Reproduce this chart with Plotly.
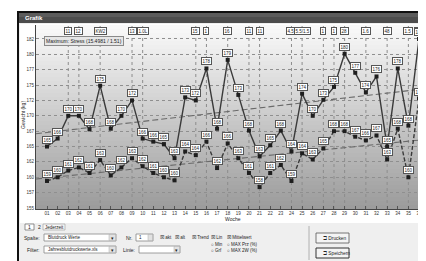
import numpy as np
import plotly.graph_objects as go

# ---------------- data ----------------
categories = ["01", "02", "03", "04", "05", "06", "07", "08", "09", "10", "11", "12",
              "13", "14", "15", "16", "17", "18", "19", "20", "21", "22", "23", "24",
              "25", "26", "27", "28", "29", "30", "31", "32", "33", "34", "35", "36"]
series_upper = [165.0, 166.3, 170.0, 170.0, 167.8, 174.9, 167.9, 170.0, 172.5, 166.3, 165.8, 165.4,
                163.1, 173.0, 172.5, 177.7, 167.9, 179.1, 173.4, 167.6, 163.4, 165.2, 167.6, 164.2,
                173.6, 170.0, 172.6, 174.7, 180.1, 177.0, 173.8, 176.4, 165.0, 177.7, 168.4, 182.5]
series_lower = [159.4, 160.0, 161.1, 161.6, 160.7, 162.8, 160.3, 161.6, 163.1, 161.8, 160.7, 160.0,
                159.5, 164.2, 163.6, 165.8, 161.5, 165.5, 163.1, 160.7, 158.4, 160.7, 162.0, 159.4,
                163.9, 162.9, 164.7, 167.5, 167.5, 166.6, 166.0, 166.8, 162.9, 167.9, 160.0, 172.8]
ytick_values = [155, 157.5, 160, 162.5, 165, 167.5, 170, 172.5, 175, 177.5, 180, 182.5]
ytick_labels = ["155", "157", "160", "162", "165", "167", "170", "172", "175", "177", "180", "182"]
event_cats = [3, 4, 6, 9, 10, 15, 16, 18, 20, 21, 24, 25, 27, 28, 29, 31, 33, 35, 36]
event_labels = ["11", "12", "KW2", "13", "1.0L", "15", "1", "16", "11", "11", "4.5", "5.5/1.5",
                "1", "1", "28", "1.6", "48", "1.5", "1.4"]

xpos = list(range(1, len(categories) + 1))

# ---------------- geometry helpers (pixel -> paper) ----------------
W, H = 426, 261
PL, PR, PT, PB = 28, 414, 17, 201
def X(px):
    return (px - PL) / (PR - PL)
def Y(py):
    return (PB - py) / (PB - PT)

FONT = "Liberation Sans"
shapes = []
annos = []

def rect(x0, y0, x1, y1, fill, line="rgba(0,0,0,0)", lw=0):
    shapes.append(dict(type="rect", xref="paper", yref="paper", layer="below",
                       x0=X(x0), x1=X(x1), y0=Y(y1), y1=Y(y0),
                       fillcolor=fill, line=dict(color=line, width=lw)))

def vline(x, y0, y1, color, lw=1):
    shapes.append(dict(type="line", xref="paper", yref="paper", layer="below",
                       x0=X(x), x1=X(x), y0=Y(y1), y1=Y(y0),
                       line=dict(color=color, width=lw)))

def txt(x, y, s, size=5, color="#222", anchor="left", bold=False, angle=0):
    annos.append(dict(xref="paper", yref="paper", x=X(x), y=Y(y), text=("<b>%s</b>" % s) if bold else s,
                      showarrow=False, xanchor=anchor, yanchor="middle", textangle=angle,
                      font=dict(family=FONT, size=size, color=color)))

# ---------------- window chrome ----------------
rect(10, 4, 421, 254, "#efefef", "#111", 2)
rect(11, 5, 420, 15, "#4d4d4d")
rect(11, 5, 420, 9, "#5c5c5c")
rect(414, 6, 419, 13, "#cfcfcf", "#888", 0.5)
txt(15, 10, "Grafik", 6, "#ffffff", bold=True)
rect(12, 16, 419, 215, "#ffffff")

# bottom panel controls
rect(17, 216, 26, 222, "#ffffff", "#777", 0.8)
txt(21.5, 219, "1", 5, anchor="center")
txt(31, 219, "2", 5, anchor="center")
rect(35, 216, 57, 222, "#f7f7f7", "#999", 0.6)
txt(46, 219, "Jederzeit", 4.5, anchor="center")

txt(34, 229.5, "Spalte:", 5, anchor="right")
rect(36, 226, 108, 233, "#ffffff", "#888", 0.8)
rect(101, 226.5, 107.5, 232.5, "#e2e2e2", "#aaa", 0.5)
txt(104.3, 229.5, "▾", 5, anchor="center")
txt(38, 229.5, "Blutdruck Werte", 4.5)

txt(34, 241.5, "Filter:", 5, anchor="right")
rect(36, 238, 108, 245, "#ffffff", "#888", 0.8)
rect(101, 238.5, 107.5, 244.5, "#e2e2e2", "#aaa", 0.5)
txt(104.3, 241.5, "▾", 5, anchor="center")
txt(38, 241.5, "Jahresblutdruckwerte.xls", 4.5)

txt(126, 229.5, "Nr.", 5, anchor="right")
rect(128, 226, 145, 233, "#ffffff", "#888", 0.8)
txt(132, 229.5, "1", 4.5, anchor="center")
rect(140, 226.5, 144.5, 232.5, "#e2e2e2", "#aaa", 0.5)
txt(150, 229.5, "☒ akt", 4.5)
txt(165, 229.5, "☒ alt", 4.5)
txt(182, 229.5, "☒ Trend", 4.5)
txt(201, 229.5, "☒ Lin", 4.5)
txt(201, 236.3, "○ Min", 4.5)
txt(201, 243, "○ Grf", 4.5)
txt(217, 229.5, "☒ Mittelwert", 4.5)
txt(217, 236.3, "○ MAX Prz (%)", 4.5)
txt(217, 243, "○ MAX 2W (%)", 4.5)

txt(129, 241.5, "Linie:", 5, anchor="right")
rect(131, 238, 172, 245, "#ffffff", "#888", 0.8)
rect(166, 238.5, 171.5, 244.5, "#e2e2e2", "#aaa", 0.5)
txt(168.8, 241.5, "▾", 5, anchor="center")

vline(301, 218, 252, "#b0b0b0", 1)
rect(308, 225, 341, 235, "#f4f4f4", "#555", 0.8)
txt(313, 230, "⊐ Drucken", 4.8)
rect(308, 240, 341, 250, "#f4f4f4", "#333", 1)
txt(313, 245, "⊐ Speichern", 4.8)

# axis titles & info box
txt(15, 107, "Gewicht (kg)", 5, angle=-90, anchor="center")
txt(225, 211, "Woche", 5, anchor="center")
annos.append(dict(xref="paper", yref="paper", x=X(36), y=Y(32.5), xanchor="left", yanchor="middle",
                  text="Maximum: Stress (15.4981 / 1.51)", showarrow=False,
                  font=dict(family=FONT, size=5, color="#222"),
                  bgcolor="#e6e6e6", bordercolor="#8a8a8a", borderwidth=1, borderpad=1))

# ---------------- plot background gradient ----------------
nb = 46
for i in range(nb):
    t = (i + 0.5) / nb
    c = int(round(250 - 95 * t))
    shapes.append(dict(type="rect", xref="x domain", yref="y domain", layer="below",
                       x0=0, x1=1, y0=1 - (i + 1) / nb - 0.002, y1=1 - i / nb,
                       fillcolor="rgb(%d,%d,%d)" % (c, c, c), line=dict(width=0)))

# event lines + labels
for cx, lab in zip(event_cats, event_labels):
    shapes.append(dict(type="line", xref="x", yref="y domain", layer="below",
                       x0=cx, x1=cx, y0=0, y1=1,
                       line=dict(color="#8c8c8c", width=1, dash="dot")))
    annos.append(dict(xref="x", yref="paper", x=cx, y=Y(23), text=lab, showarrow=False,
                      xanchor="center", yanchor="middle",
                      font=dict(family=FONT, size=4.5, color="#222"),
                      bgcolor="#ffffff", bordercolor="#555", borderwidth=1, borderpad=0.5))

# ---------------- traces ----------------
xr = [-0.035, 36.28]
fig = go.Figure()

for ser in (series_upper, series_lower):
    k, d = np.polyfit(xpos, ser, 1)
    fig.add_trace(go.Scatter(x=xr, y=[k * xr[0] + d, k * xr[1] + d], mode="lines",
                             line=dict(color="#6a6a6a", width=1.1, dash="6px,3px"),
                             hoverinfo="skip", showlegend=False))

fig.add_trace(go.Scatter(x=xpos, y=series_lower, mode="lines+markers", name="Unterer Wert",
                         line=dict(color="#3a3a3a", width=1.4, dash="4px,2px"),
                         marker=dict(symbol="square", size=4, color="#1e1e1e"),
                         showlegend=False))
fig.add_trace(go.Scatter(x=xpos, y=series_upper, mode="lines+markers", name="Oberer Wert",
                         line=dict(color="#3a3a3a", width=1.4),
                         marker=dict(symbol="square", size=4, color="#1e1e1e"),
                         showlegend=False))

for ser in (series_upper, series_lower):
    for cx, v in zip(xpos, ser):
        annos.append(dict(xref="x", yref="y", x=cx, y=v, text="%.0f" % v, showarrow=False,
                          xanchor="center", yanchor="bottom", yshift=3,
                          font=dict(family=FONT, size=4.5, color="#222"),
                          bgcolor="#ffffff", bordercolor="#555", borderwidth=1, borderpad=0.5))

fig.update_layout(
    width=W, height=H,
    margin=dict(l=PL, r=W - PR, t=PT, b=H - PB, pad=0),
    paper_bgcolor="#ffffff", plot_bgcolor="#ffffff",
    shapes=shapes, annotations=annos, showlegend=False,
    font=dict(family=FONT, size=5, color="#333"),
)
fig.update_xaxes(range=xr, tickvals=xpos, ticktext=categories, showgrid=False,
                 ticks="inside", ticklen=3, tickcolor="#555", showline=True,
                 linecolor="#444", linewidth=1, zeroline=False,
                 tickfont=dict(family=FONT, size=4.5, color="#333"))
fig.update_yaxes(range=[154.84, 184.77], tickvals=ytick_values, ticktext=ytick_labels,
                 showgrid=True, gridcolor="#8f8f8f", griddash="dot", gridwidth=1,
                 showline=True, linecolor="#444", linewidth=1, zeroline=False,
                 ticks="", tickfont=dict(family=FONT, size=4.5, color="#333"))

fig.write_html("out.html")
